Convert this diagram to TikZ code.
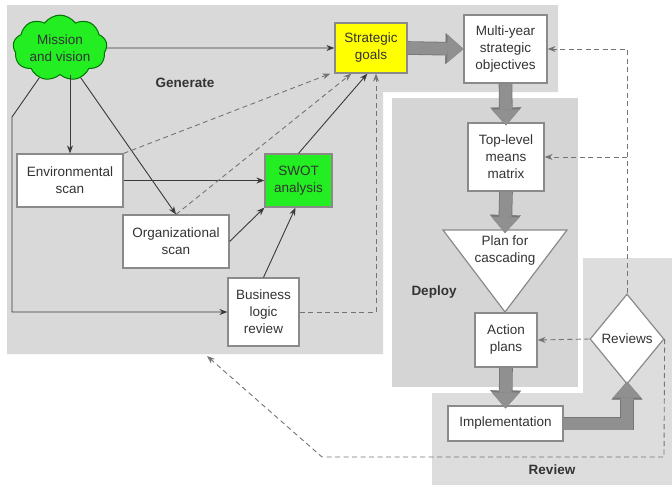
\documentclass[tikz,border=0pt]{standalone}
\usepackage{fontspec}
\setmainfont{Liberation Sans}
\usetikzlibrary{arrows.meta,shapes.geometric,shapes.symbols,calc}
\definecolor{genc}{HTML}{D9D9D9}
\definecolor{depc}{HTML}{D5D5D5}
\definecolor{revc}{HTML}{DDDDDD}
\definecolor{boxc}{HTML}{8A8A8A}
\definecolor{txtc}{HTML}{333333}
\definecolor{fatc}{HTML}{909090}
\definecolor{fatd}{HTML}{767676}
\definecolor{linec}{HTML}{3A3A3A}
\definecolor{dashc}{HTML}{747474}
\definecolor{greenc}{HTML}{22EE22}
\definecolor{yellc}{HTML}{FFFF00}
\begin{document}
\begin{tikzpicture}[x=1pt,y=-1pt,
  every node/.style={font=\fontsize{13.5}{17}\selectfont, text=txtc, align=center},
  box/.style={draw=boxc, line width=1.2pt, fill=white, inner sep=0pt},
  lbl/.style={font=\fontsize{13.5}{17}\selectfont\bfseries, text=txtc},
  arr/.style={draw=linec, line width=0.9pt, -{Stealth[length=8pt,width=6pt]}},
  darr/.style={draw=dashc, line width=0.9pt, dash pattern=on 5pt off 3.5pt, -{Stealth[length=8pt,width=6pt]}},
  fat/.style={draw=fatc, line width=12pt, line join=miter,
    -{Triangle[width=28pt 0, length=16pt 0, line width=0.4pt 0]},
    preaction={draw=fatd, line width=13.6pt, line join=miter,
    -{Triangle[width=31pt 0, length=18pt 0, line width=0.4pt 0]}}}
]
\path[use as bounding box] (0,0) rectangle (672,485);
% regions
\fill[genc] (7,5) -- (558,5) -- (558,92) -- (383,92) -- (383,354) -- (7,354) -- cycle;
\fill[depc] (392,98) rectangle (578,387);
\fill[revc] (583,258) -- (672,258) -- (672,485) -- (432,485) -- (432,393) -- (583,393) -- cycle;
% labels
\node[lbl] (lgen) at (185,83) {Generate};
\node[lbl] (ldep) at (434,292) {Deploy};
\node[lbl] (lrev) at (552,470) {Review};
% nodes
\node[cloud, cloud puffs=9, cloud puff arc=110, aspect=1.6, draw=green!45!black, line width=1pt, fill=greenc,
  minimum width=94pt, minimum height=57pt, inner sep=0pt] (mission) at (60,48) {Mission\\and vision};
\node[box, fill=yellc, minimum width=72pt, minimum height=50pt] (sg) at (371,48) {Strategic\\goals};
\node[box, minimum width=83pt, minimum height=68pt] (my) at (505.5,49) {Multi-year\\strategic\\objectives};
\node[box, minimum width=76pt, minimum height=68pt] (tl) at (506,157) {Top-level\\means\\matrix};
\node[box, minimum width=106pt, minimum height=53pt] (env) at (70,180.5) {Environmental\\scan};
\node[box, fill=greenc, minimum width=67pt, minimum height=53pt] (swot) at (298.5,180.5) {SWOT\\analysis};
\node[box, minimum width=106pt, minimum height=53pt] (org) at (176,241.5) {Organizational\\scan};
\node[box, minimum width=71pt, minimum height=68pt] (blr) at (263.5,312) {Business\\logic\\review};
% triangle
\coordinate (t1) at (443,230);
\coordinate (t2) at (567,230);
\coordinate (t3) at (505,312);
\coordinate (ptop) at (505,230);
\filldraw[draw=boxc, fill=white, line width=1.2pt, line join=miter] (t1) -- (t2) -- (t3) -- cycle;
\node (plan) at (505,251) {Plan for\\cascading};
\node[box, minimum width=62pt, minimum height=54pt] (ap) at (506,340) {Action\\plans};
\node[box, minimum width=115pt, minimum height=35pt] (impl) at (505.5,423.5) {Implementation};
\node[diamond, draw=boxc, line width=1.2pt, fill=white, inner sep=0pt, minimum width=74pt, minimum height=90pt] (rev) at (627,339) {Reviews};
% thin connectors
\coordinate (bend1) at (12,117);
\draw[arr] (mission) -- (sg);
\draw[arr] (env.north |- mission.south) -- (env.north);
\draw[arr] (mission) -- (org.north);
\draw[arr] (mission) -- (bend1) |- (blr.west);
\draw[arr] (env) -- (swot);
\draw[arr] (org.east) -- (swot.south west);
\draw[arr] (blr.north) -- ([xshift=-3pt]swot.south);
\draw[arr] (swot.north) -- ([xshift=33pt]sg.south west);
\draw[darr] (env.north east) -- ([xshift=-4pt]sg.south west);
\draw[darr] (org.north) -- ([xshift=17pt]sg.south west);
\draw[darr] (blr.east) -| ([xshift=5pt]sg.south);
% review feedback
\coordinate (c1) at (664,457);
\coordinate (c2) at (322,457);
\coordinate (c3) at (207,356);
\draw[darr] (rev.west) -- (ap.east);
\draw[darr] (rev.north) |- (my.east);
\draw[darr] (rev.north |- tl.east) -- (tl.east);
\draw[darr] (rev.east) -- (c1) -- (c2) -- (c3);
% fat arrows
\draw[fat] (sg.east) -- (my.west);
\draw[fat] (my.south) -- ([yshift=-3pt]tl.north);
\draw[fat] (tl.south) -- ([yshift=-3pt]ptop);
\draw[fat] (ap.south) -- ([yshift=-3pt]impl.north);
\draw[fat] (impl.east) -| ([yshift=3pt]rev.south);
\end{tikzpicture}
\end{document}
